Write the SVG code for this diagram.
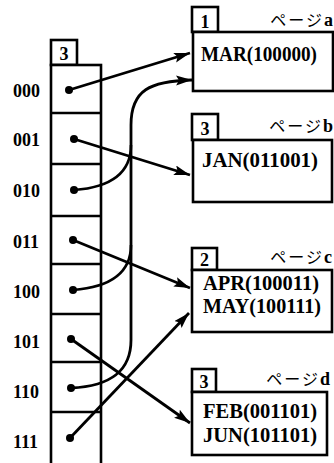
<svg xmlns="http://www.w3.org/2000/svg" width="334" height="463" viewBox="0 0 334 463">
<style>
.box{fill:#fff;stroke:#000;stroke-width:2.6}
.ln{fill:none;stroke:#000;stroke-width:2.6}
.arr{fill:none;stroke:#000;stroke-width:2.8;marker-end:url(#ah)}
.dot{fill:#000}
.lbl{font-family:"Liberation Serif","DejaVu Serif",serif;font-weight:bold;font-size:18px;fill:#000}
.rec{font-family:"Liberation Serif","DejaVu Serif",serif;font-weight:bold;font-size:21px;fill:#000}
.tab{font-family:"Liberation Serif","DejaVu Serif",serif;font-weight:bold;font-size:18px;fill:#000;text-anchor:middle}
.pg{font-family:"Liberation Serif","Noto Sans CJK JP",serif;font-size:16px;fill:#000;text-anchor:end}
.kana{font-family:"Noto Sans CJK JP",sans-serif;font-weight:normal;letter-spacing:2px}
.pl{font-weight:bold;font-size:18px}
</style>
<defs>
<marker id="ah" markerUnits="userSpaceOnUse" markerWidth="18" markerHeight="12" refX="16" refY="5" orient="auto">
<path d="M0,0 L16,5 L0,10 L3,5 z" fill="#000"/>
</marker>
</defs>

<g id="directory">
<rect class="box" x="51" y="40" width="26" height="25"/>
<text class="tab" x="64" y="60">3</text>
<rect class="box" x="51" y="65" width="50" height="410"/>
<path class="ln" d="M51,113H101M51,164H101M51,216H101M51,264H101M51,314H101M51,362H101M51,412H101"/>
<text class="lbl" x="13" y="97">000</text>
<text class="lbl" x="13" y="146">001</text>
<text class="lbl" x="13" y="197">010</text>
<text class="lbl" x="13" y="248">011</text>
<text class="lbl" x="13" y="298">100</text>
<text class="lbl" x="13" y="348">101</text>
<text class="lbl" x="13" y="398">110</text>
<text class="lbl" x="13" y="448">111</text>
</g>

<g id="page-a">
<rect class="box" x="192" y="7" width="26" height="25"/>
<text class="tab" x="205" y="28">1</text>
<rect class="box" x="193" y="32" width="140" height="59"/>
<text class="pg" x="333" y="26"><tspan class="kana">ページ</tspan><tspan class="pl">a</tspan></text>
<text class="rec" x="201" y="61" textLength="116" lengthAdjust="spacingAndGlyphs">MAR(100000)</text>
</g>

<g id="page-b">
<rect class="box" x="192" y="114" width="26" height="26"/>
<text class="tab" x="205" y="135">3</text>
<rect class="box" x="193" y="140" width="139" height="62"/>
<text class="pg" x="333" y="132"><tspan class="kana">ページ</tspan><tspan class="pl">b</tspan></text>
<text class="rec" x="202" y="167" textLength="116" lengthAdjust="spacingAndGlyphs">JAN(011001)</text>
</g>

<g id="page-c">
<rect class="box" x="192" y="248" width="25" height="22"/>
<text class="tab" x="204.5" y="266">2</text>
<rect class="box" x="192" y="270" width="140" height="62"/>
<text class="pg" x="332" y="263"><tspan class="kana">ページ</tspan><tspan class="pl">c</tspan></text>
<text class="rec" x="203" y="290" textLength="116" lengthAdjust="spacingAndGlyphs">APR(100011)</text>
<text class="rec" x="203" y="313" textLength="118" lengthAdjust="spacingAndGlyphs">MAY(100111)</text>
</g>

<g id="page-d">
<rect class="box" x="192" y="369" width="24" height="23"/>
<text class="tab" x="204" y="388">3</text>
<rect class="box" x="192" y="392" width="135" height="63"/>
<text class="pg" x="330" y="385"><tspan class="kana">ページ</tspan><tspan class="pl">d</tspan></text>
<text class="rec" x="203" y="418" textLength="114" lengthAdjust="spacingAndGlyphs">FEB(001101)</text>
<text class="rec" x="203" y="442" textLength="114" lengthAdjust="spacingAndGlyphs">JUN(101101)</text>
</g>

<g id="connectors">
<path class="arr" d="M69,90 L190,53"/>
<path class="arr" d="M74,139 L190,175"/>
<path class="arr" d="M73,240 L190,288"/>
<path class="arr" d="M71,339 L190,423"/>
<path class="arr" d="M70,438 L189,313"/>
<path class="ln" d="M74,190 C115,187 131,170 131,145"/>
<path class="ln" d="M73,290 C112,287 131,272 131,245"/>
<path class="arr" d="M71,388 C112,386 131,370 131,340 L131,125 C131,90 150,81 192,80"/>
<circle class="dot" cx="69" cy="90" r="4"/>
<circle class="dot" cx="74" cy="139" r="4"/>
<circle class="dot" cx="74" cy="190" r="4"/>
<circle class="dot" cx="73" cy="240" r="4"/>
<circle class="dot" cx="73" cy="290" r="4"/>
<circle class="dot" cx="71" cy="339" r="4"/>
<circle class="dot" cx="71" cy="388" r="4"/>
<circle class="dot" cx="70" cy="438" r="4"/>
</g>
</svg>
